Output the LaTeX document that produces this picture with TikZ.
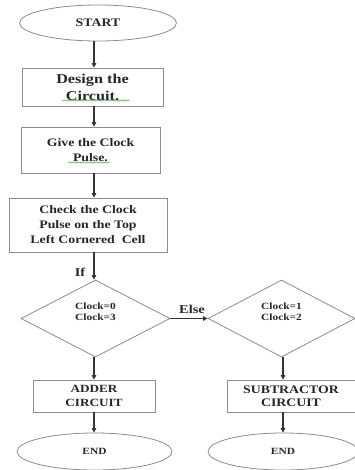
\documentclass[tikz,border=0pt]{standalone}
\usepackage{fontspec}
\setmainfont{Liberation Serif}[FakeStretch=1.2]
\usetikzlibrary{shapes.geometric,arrows.meta,decorations.pathmorphing}
\begin{document}
\begin{tikzpicture}[x=1pt,y=-1pt,
  every node/.style={font=\bfseries, text=black!85},
  box/.style={draw=black!45, line width=0.8pt, rectangle, align=center, inner sep=0pt},
  oval/.style={draw=black!45, line width=0.8pt, ellipse, inner sep=0pt},
  dia/.style={draw=black!45, line width=0.8pt, diamond, align=center, inner sep=0pt},
  arr/.style={draw=black!80, line width=1.3pt, -{Triangle[length=4.5pt,width=4.5pt]}},
  squig/.style={draw=green!50!black!70, line width=0.45pt, decorate, decoration={snake, amplitude=0.6pt, segment length=2pt}}
]
\useasboundingbox (0,0) rectangle (355,470);
\begin{scope}
\clip (0,0) rectangle (355,470);
\node[oval, minimum width=157pt, minimum height=36pt, font=\bfseries\fontsize{11.5}{13}\selectfont] (start) at (98,23) {START};
\node[box, minimum width=141pt, minimum height=38pt, font=\bfseries\fontsize{13.5}{17}\selectfont] (design) at (92.5,87) {Design the\\Circuit.};
\node[box, minimum width=139pt, minimum height=46pt, font=\bfseries\fontsize{11.5}{15}\selectfont] (give) at (90.5,150) {Give the Clock\\Pulse.};
\node[box, minimum width=158pt, minimum height=54pt, font=\bfseries\fontsize{11.5}{15}\selectfont] (check) at (88,225) {Check the Clock\\Pulse on the Top\\Left Cornered\ \ Cell};
\node[dia, minimum width=149pt, minimum height=77pt, font=\bfseries\fontsize{9.5}{10.5}\selectfont] (d1) at (95.5,318.5) {Clock=0\\Clock=3\\[3pt]};
\node[dia, minimum width=147pt, minimum height=77pt, font=\bfseries\fontsize{9.5}{10.5}\selectfont] (d2) at (281.5,318.5) {Clock=1\\Clock=2\\[3pt]};
\node[box, minimum width=122pt, minimum height=32pt, font=\bfseries\fontsize{11}{13.5}\selectfont] (adder) at (94,396) {ADDER\\CIRCUIT};
\node[box, minimum width=128pt, minimum height=32pt, font=\bfseries\fontsize{11.5}{13.5}\selectfont] (sub) at (291,396) {SUBTRACTOR\\CIRCUIT};
\node[oval, minimum width=155pt, minimum height=37pt, font=\bfseries\fontsize{9.5}{11}\selectfont] (end1) at (94.5,451.5) {END};
\node[oval, minimum width=150pt, minimum height=37pt, font=\bfseries\fontsize{9.5}{11}\selectfont] (end2) at (283,451.5) {END};
\node[font=\bfseries\fontsize{12}{13}\selectfont] (iflbl) at (80,272) {If};
\node[font=\bfseries\fontsize{12}{13}\selectfont] (elselbl) at (192,309) {Else};
\coordinate (lx) at (94,0);
\coordinate (rx) at (283,0);
\draw[arr] (start.south -| lx) -- (design.north -| lx);
\draw[arr] (design.south -| lx) -- (give.north -| lx);
\draw[arr] (give.south -| lx) -- (check.north -| lx);
\draw[arr] (check.south -| lx) -- (d1.north -| lx);
\draw[arr] (d1.south -| lx) -- (adder.north -| lx);
\draw[arr] (adder.south -| lx) -- (end1.north -| lx);
\draw[arr] (d1.east) -- (d2.west);
\draw[arr] (d2.south -| rx) -- (sub.north -| rx);
\draw[arr] (sub.south -| rx) -- (end2.north -| rx);
\coordinate (s1a) at (62,100.5);
\coordinate (s1b) at (130,100.5);
\coordinate (s2a) at (68,162.5);
\coordinate (s2b) at (110,162.5);
\draw[squig] (s1a) -- (s1b);
\draw[squig] (s2a) -- (s2b);
\end{scope}
\end{tikzpicture}
\end{document}
